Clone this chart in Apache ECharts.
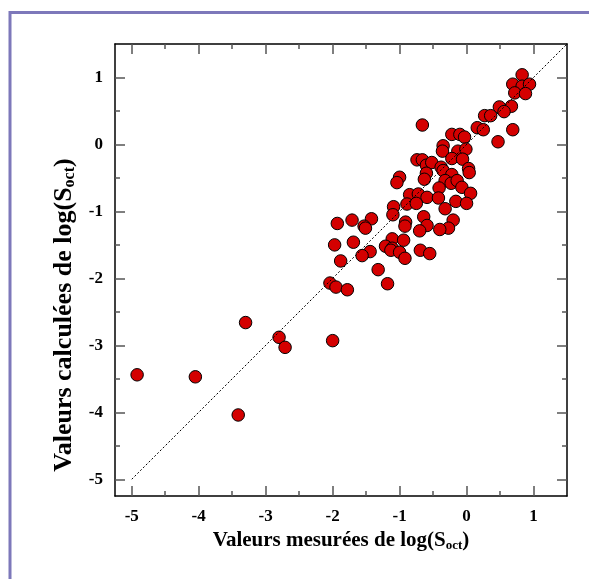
<!DOCTYPE html>
<html>
<head>
<meta charset="utf-8">
<script src="https://cdn.jsdelivr.net/npm/echarts@6/dist/echarts.min.js"></script>
<style>
html,body{margin:0;padding:0;background:#fff;}
#chart{width:589px;height:579px;}
</style>
</head>
<body>
<div id="chart"></div>
<script>
// Measured values (x) and calculated values (y) of log(S_oct)
const measured = [
  0.83, 0.69, 0.83, 0.94, 0.72, 0.88, 0.49, 0.67, 0.56, 0.27,
  0.36, 0.16, 0.25, 0.69, 0.47, -0.66, -0.22, -0.10, -0.03, -0.35,
  -0.36, -0.13, -0.01, -0.22, -0.06, -0.74, -0.66, -0.60, -0.52, -0.38,
  -0.35, -0.60, 0.03, 0.04, -0.22, -0.32, -0.23, -0.14, -0.63, -0.41,
  -0.07, 0.06, -1.00, -1.04, -0.85, -0.72, -0.59, -0.42, -0.89, -0.75,
  -0.16, 0.00, -0.32, -1.09, -1.10, -0.64, -1.42, -1.71, -1.93, -1.53,
  -1.51, -0.91, -0.92, -0.59, -0.70, -0.20, -0.27, -0.40, -1.97, -1.69,
  -1.11, -0.94, -1.21, -1.11, -1.13, -1.00, -0.92, -0.69, -0.55, -1.44,
  -1.56, -1.88, -1.32, -1.18, -2.04, -1.95, -1.78, -3.30, -2.80, -2.71,
  -2.00, -4.92, -4.05, -3.41
];
const calculated = [
  1.04, 0.90, 0.87, 0.90, 0.77, 0.76, 0.56, 0.57, 0.49, 0.43,
  0.43, 0.25, 0.22, 0.22, 0.04, 0.29, 0.15, 0.15, 0.11, -0.02,
  -0.10, -0.10, -0.07, -0.21, -0.22, -0.23, -0.23, -0.31, -0.27, -0.34,
  -0.39, -0.43, -0.36, -0.42, -0.45, -0.54, -0.58, -0.54, -0.52, -0.65,
  -0.64, -0.73, -0.49, -0.57, -0.75, -0.74, -0.79, -0.80, -0.89, -0.88,
  -0.85, -0.88, -0.96, -0.93, -1.05, -1.08, -1.11, -1.13, -1.18, -1.22,
  -1.25, -1.16, -1.22, -1.21, -1.29, -1.13, -1.25, -1.27, -1.50, -1.46,
  -1.41, -1.43, -1.52, -1.55, -1.58, -1.61, -1.70, -1.58, -1.63, -1.60,
  -1.66, -1.74, -1.87, -2.08, -2.07, -2.13, -2.17, -2.66, -2.88, -3.03,
  -2.93, -3.44, -3.47, -4.04
];
// Identity line (y = x)
const identityLine = [[-5, -5], [1.5, 1.5]];
// Axis ticks
const axisMin = -5.25;
const axisMax = 1.5;
const majorTicks = [-5, -4, -3, -2, -1, 0, 1];
const minorTicks = [-4.5, -3.5, -2.5, -1.5, -0.5, 0.5];
const tickLabels = ['-5', '-4', '-3', '-2', '-1', '0', '1'];

const xTitle = '{a|Valeurs mesurées de log(S}{s|oct}{a|)}';
const yTitle = '{a|Valeurs calculées de log(S}{s|oct}{a|)}';

const FONT = '"Liberation Serif", "DejaVu Serif", serif';
const points = measured.map((x, i) => [x, calculated[i]]);

function titleStyle(size, subSize, subPad) {
  return {
    fontFamily: FONT, fontWeight: 'bold', fontSize: size, color: '#000',
    rich: {
      a: {fontFamily: FONT, fontWeight: 'bold', fontSize: size, color: '#000'},
      s: {fontFamily: FONT, fontWeight: 'bold', fontSize: subSize, color: '#000', padding: [subPad, 0, 0, 0]}
    }
  };
}

function makeAxis(pos, major, withLabel, name, isY) {
  const ax = {
    type: 'value', position: pos, min: axisMin, max: axisMax,
    splitLine: {show: false},
    axisLine: {show: major, onZero: false, lineStyle: {color: '#000', width: 1.5}},
    axisTick: {
      show: true, inside: true, length: major ? 10 : 5,
      customValues: major ? majorTicks : minorTicks,
      lineStyle: {color: '#555', width: 1.5}
    },
    axisLabel: {
      show: withLabel,
      customValues: majorTicks,
      formatter: function (v) { const i = majorTicks.indexOf(v); return i >= 0 ? tickLabels[i] : ''; },
      fontFamily: FONT, fontWeight: 'bold', fontSize: 17, color: '#000', margin: 12
    }
  };
  if (name) {
    ax.name = name;
    ax.nameLocation = 'middle';
    if (isY) {
      ax.nameGap = 37;
      ax.nameTextStyle = Object.assign(titleStyle(26, 16, 12), {padding: [0, 90, 0, 0]});
    } else {
      ax.nameGap = 16;
      ax.nameTextStyle = titleStyle(21, 13, 10);
    }
  }
  return ax;
}

const chart = echarts.init(document.getElementById('chart'), null, {renderer: 'canvas'});
chart.setOption({
  backgroundColor: '#fff',
  animation: false,
  grid: {left: 115, top: 44, right: 22, bottom: 83, containLabel: false},
  xAxis: [
    makeAxis('bottom', true, true, xTitle, false),
    makeAxis('bottom', false, false, null, false),
    makeAxis('top', true, false, null, false),
    makeAxis('top', false, false, null, false)
  ],
  yAxis: [
    makeAxis('left', true, true, yTitle, true),
    makeAxis('left', false, false, null, true),
    makeAxis('right', true, false, null, true),
    makeAxis('right', false, false, null, true)
  ],
  graphic: [{
    type: 'polyline',
    shape: {points: [[10, 579], [10, 12.5], [589, 12.5]]},
    style: {stroke: '#7d78ba', lineWidth: 3, fill: null},
    silent: true
  }],
  series: [
    {
      type: 'scatter', xAxisIndex: 0, yAxisIndex: 0,
      data: points, symbol: 'circle', symbolSize: 12.5,
      itemStyle: {color: '#d40000', borderColor: '#000', borderWidth: 1, opacity: 1},
      z: 2
    },
    {
      type: 'line', xAxisIndex: 0, yAxisIndex: 0,
      data: identityLine, symbol: 'none',
      lineStyle: {color: '#000', width: 1, type: [2, 2]},
      z: 3
    }
  ]
});
</script>
</body>
</html>
